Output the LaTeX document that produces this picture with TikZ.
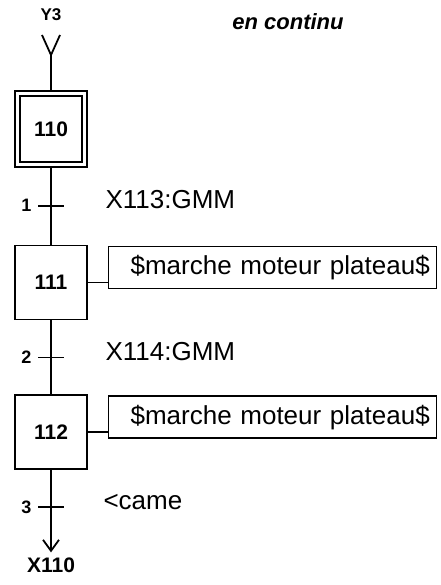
\documentclass[tikz,border=0pt]{standalone}
\usepackage{fontspec}
\setmainfont{Liberation Sans}
\usetikzlibrary{arrows.meta,positioning}

\begin{document}
\begin{tikzpicture}[x=1pt,y=1pt]

\tikzstyle{stepnode} = [minimum width=72pt,minimum height=74pt,draw,line width=1.8pt,inner sep=0pt,font=\fontsize{21}{24}\selectfont\bfseries];
\tikzstyle{initnode} = [stepnode,double,double distance=3pt,minimum width=67pt,minimum height=71pt,outer sep=3.3pt];
\tikzstyle{actionnode} = [minimum width=328pt,minimum height=42pt,draw,line width=1.4pt,inner xsep=22pt,text width=284pt,align=left,font=\fontsize{26}{30}\selectfont];
\tikzstyle{link} = [line width=1.8pt];
\tikzstyle{tnum} = [font=\fontsize{18}{21}\selectfont\bfseries];
\tikzstyle{recep} = [anchor=west,font=\fontsize{26}{30}\selectfont];

\useasboundingbox (0,0) rectangle (440,-585);

\node [font=\fontsize{17}{20}\selectfont\bfseries] (y3) at (51,-15) {Y3};
\node [font=\fontsize{22}{26}\selectfont\bfseries\itshape] (mode) at (288,-22) {en continu};
\coordinate (vin) at ([yshift=-40pt]y3.center);

\node [initnode,anchor=north] (s110) at (51,-90) {110};
\node [stepnode,anchor=north] (s111) at ([yshift=-77pt]s110.south) {111};
\node [stepnode,anchor=north] (s112) at ([yshift=-74pt]s111.south) {112};

\node [actionnode,anchor=north west] (a111) at ([xshift=20pt,yshift=-1pt]s111.north east) {\mbox{\$marche moteur plateau\$}};
\node [actionnode,anchor=north west] (a112) at ([xshift=20pt,yshift=-1pt]s112.north east) {\mbox{\$marche moteur plateau\$}};

\coordinate (t1) at ([yshift=-38pt]s110.south);
\coordinate (t2) at ([yshift=-37pt]s111.south);
\coordinate (t3) at ([yshift=-37pt]s112.south);

\node [font=\fontsize{21}{24}\selectfont\bfseries,inner sep=1pt] (x110) at (51,-565) {X110};

\draw [link] ([xshift=-9pt,yshift=20pt]vin) -- (vin) -- ([xshift=9pt,yshift=20pt]vin);
\draw [link] (vin) -- (s110.north);
\draw [link] (s110.south) -- (s111.north);
\draw [link] (s111.south) -- (s112.north);
\draw [link,-{Straight Barb[length=11pt,width=16pt]},shorten >=4pt] (s112.south) -- (x110.north);

\draw [link] (s111.east) -- (s111.east -| a111.west);
\draw [link] (s112.east) -- (s112.east -| a112.west);

\draw [link] ([xshift=-13pt]t1) -- ([xshift=13pt]t1);
\draw [link] ([xshift=-13pt]t2) -- ([xshift=13pt]t2);
\draw [link] ([xshift=-13pt]t3) -- ([xshift=13pt]t3);

\node [tnum,left=16pt of t1] (n1) {1};
\node [tnum,left=16pt of t2] (n2) {2};
\node [tnum,left=16pt of t3] (n3) {3};

\node [recep] (r1) at ([xshift=51pt,yshift=6pt]t1) {X113:GMM};
\node [recep] (r2) at ([xshift=51pt,yshift=6pt]t2) {X114:GMM};
\node [recep] (r3) at ([xshift=49pt,yshift=5pt]t3) {<came};

\end{tikzpicture}
\end{document}
